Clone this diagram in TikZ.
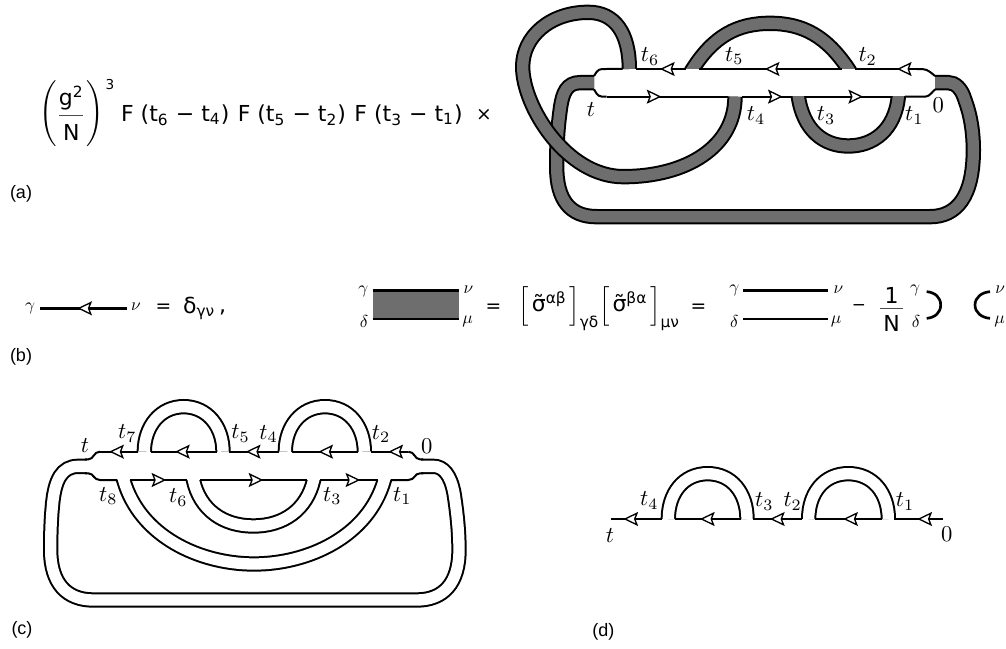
\documentclass[tikz,border=0pt]{standalone}
\usepackage{amsmath,amssymb}
\usepackage{fontspec}
\setmainfont{Liberation Sans}
\newfontfamily\eqfont{DejaVu Sans}
\usetikzlibrary{arrows.meta,decorations.markings}
\definecolor{tubegray}{HTML}{6E6E6E}

\begin{document}
\begin{tikzpicture}[
  x=0.25pt,y=-0.25pt,
  >={Stealth[length=11pt,width=10.5pt,inset=2pt,fill=white,line width=1pt]},
  wire/.style={line width=1.5pt},
  thickwire/.style={line width=1.9pt},
  tipat/.style={postaction={decorate,decoration={markings,mark=at position #1 with {\arrow{>}}}}},
  graytube/.style={line width=1.5pt,double=tubegray,double distance=8.5pt},
  whitetube/.style={line width=1.5pt,double=white,double distance=8.5pt},
  lbl/.style={inner sep=0pt,scale=1.7},
  idx/.style={inner sep=0pt,scale=1.3},
  eqn/.style={inner sep=0pt,font=\eqfont,scale=1.65},
  sign/.style={eqn,scale=0.85},
  panel/.style={inner sep=0pt,font=\fontsize{13.5}{15}\selectfont}
]
\useasboundingbox (0,0) rectangle (3018,1947);

% Prefactor
\node[eqn] (lparen) at (148,345) {$\left(\vrule height 14pt depth 14pt width 0pt\right.$};
\node[eqn] (gsq) at (214,295) {g\textsuperscript{2}};
\node[eqn] (ncol) at (214,398) {N};
\draw[line width=0.7pt,black!70] (178,345) -- (250,345);
\node[eqn] (rparen) at (282,345) {$\left.\vrule height 14pt depth 14pt width 0pt\right)$};
\node[eqn,scale=0.62] (cube) at (330,255) {3};
\node[eqn,anchor=west] (propa) at (362,345) {F (t\textsubscript{6} − t\textsubscript{4})};
\node[eqn,anchor=west] (propb) at (712,345) {F (t\textsubscript{5} − t\textsubscript{2})};
\node[eqn,anchor=west] (propc) at (1062,345) {F (t\textsubscript{3} − t\textsubscript{1})};
\node[sign] (times) at (1452,345) {×};
\node[panel] (laba) at (63,582) {(a)};

% Gray diagram
\begin{scope}[shift={(1500,0)}]
\draw[graytube] (282,248) -- (240,248) .. controls (200,248) and (188,280) .. (182,320)
  .. controls (172,390) and (170,440) .. (170,500) .. controls (170,600) and (210,650) .. (290,650)
  -- (1290,650) .. controls (1370,650) and (1420,590) .. (1420,450)
  .. controls (1420,390) and (1410,340) .. (1395,300) .. controls (1385,265) and (1365,248) .. (1345,248)
  -- (1305,248);
\draw[graytube] (388,207) .. controls (388,100) and (345,37) .. (265,37)
  .. controls (150,37) and (68,110) .. (68,200) .. controls (68,320) and (200,530) .. (370,530)
  .. controls (560,530) and (705,440) .. (705,290);
\begin{scope}
\clip (500,0) rectangle (1150,207);
\draw[graytube] (570,220) -- (578,207) .. controls (640,110) and (710,70) .. (810,70)
  .. controls (910,70) and (980,110) .. (1045,207) -- (1053,220);
\end{scope}
\begin{scope}
\clip (850,290) rectangle (1250,480);
\draw[graytube] (893,275) -- (895,290) .. controls (910,390) and (970,438) .. (1045,438)
  .. controls (1120,438) and (1185,390) .. (1195,290) -- (1197,275);
\end{scope}

% top line
\draw[wire] (282,228) .. controls (295,207) .. (320,207) -- (368,207);
\draw[wire,tipat=0.52] (558,207) -- (408,207);
\draw[wire,tipat=0.54] (1025,207) -- (598,207);
\draw[wire,tipat=0.32] (1250,207) -- (1065,207);
\draw[wire] (1250,207) .. controls (1280,207) .. (1305,228);
% bottom line
\draw[wire] (282,268) .. controls (295,290) .. (320,290);
\draw[wire,tipat=0.45] (320,290) -- (685,290);
\draw[wire,tipat=0.82] (725,290) -- (875,290);
\draw[wire,tipat=0.67] (915,290) -- (1175,290);
\draw[wire] (1215,290) -- (1265,290) .. controls (1285,290) .. (1305,268);

\node[lbl] (a6) at (450,170) {$t_6$};
\node[lbl] (a5) at (703,168) {$t_5$};
\node[lbl] (a2) at (1103,170) {$t_2$};
\node[lbl] (at) at (273,328) {$t$};
\node[lbl] (a4) at (768,347) {$t_4$};
\node[lbl] (a3) at (978,347) {$t_3$};
\node[lbl] (a1) at (1243,347) {$t_1$};
\node[lbl] (a0) at (1315,315) {$0$};
\end{scope}

% Propagators
\begin{scope}[shift={(0,720)}]
\node[idx] (bgam) at (90,205) {$\gamma$};
\node[idx] (bnu) at (408,200) {$\nu$};
\draw[thickwire,tipat=0.57] (380,205) coordinate (bnuend) -- (120,205) coordinate (bgamend);
\node[sign] (beq) at (490,205) {=};
\node[eqn,anchor=west] (bdelta) at (548,205) {δ\textsubscript{γν}};
\node[eqn] (bcomma) at (668,218) {,};

\fill[tubegray] (1118,152) rectangle (1378,237);
\draw[thickwire] (1118,152) -- (1378,152);
\draw[thickwire] (1118,237) -- (1378,237);
\node[idx] (cgam) at (1090,155) {$\gamma$};
\node[idx] (cnu) at (1405,150) {$\nu$};
\node[idx] (cdel) at (1092,243) {$\delta$};
\node[idx] (cmu) at (1403,245) {$\mu$};
\node[sign] (ceq) at (1480,205) {=};
\end{scope}

\begin{scope}[shift={(1500,720)}]
\node[eqn,anchor=west] (sigma) at (55,205) {$\left[\vrule height 10pt depth 6pt width 0pt\right.$σ̃\textsuperscript{αβ}$\left.\vrule height 10pt depth 6pt width 0pt\right]_{\text{γδ}}$$\left[\vrule height 10pt depth 6pt width 0pt\right.$σ̃\textsuperscript{βα}$\left.\vrule height 10pt depth 6pt width 0pt\right]_{\text{μν}}$};
\node[sign] (deq) at (595,205) {=};
\node[idx] (dgam) at (703,152) {$\gamma$};
\node[idx] (dnu) at (1015,148) {$\nu$};
\node[idx] (ddel) at (703,243) {$\delta$};
\node[idx] (dmu) at (1008,245) {$\mu$};
\draw[thickwire] (730,152) -- (985,152);
\draw[thickwire] (730,237) -- (985,237);
\node[sign,scale=0.9] (dminus) at (1077,203) {−};
\node[eqn] (done) at (1175,165) {1};
\node[eqn] (dn) at (1175,250) {N};
\draw[line width=0.7pt,black!70] (1140,206) -- (1210,206);
\node[idx] (egam) at (1245,152) {$\gamma$};
\node[idx] (edel) at (1248,243) {$\delta$};
\draw[line width=2pt] (1280,155) .. controls (1305,157) and (1322,172) .. (1322,195)
  .. controls (1322,218) and (1305,233) .. (1280,235);
\draw[line width=2pt] (1470,155) .. controls (1445,157) and (1425,172) .. (1425,195)
  .. controls (1425,218) and (1445,233) .. (1470,235);
\node[idx,anchor=west] (enu) at (1485,148) {$\nu$};
\node[idx,anchor=west] (emu) at (1482,245) {$\mu$};
\end{scope}
\node[panel] (labb) at (63,1071) {(b)};

% White diagram with two arches
\begin{scope}[shift={(0,1110)}]
\draw[whitetube] (265,289) -- (235,289) .. controls (185,289) and (165,330) .. (158,400)
  .. controls (154,440) and (152,480) .. (152,540) .. controls (152,640) and (200,690) .. (280,690)
  -- (1250,690) .. controls (1330,690) and (1377,640) .. (1377,540)
  .. controls (1377,480) and (1370,420) .. (1362,370) .. controls (1352,315) and (1330,289) .. (1300,289)
  -- (1260,289);
\begin{scope}
\clip (300,330) rectangle (1230,640);
\draw[whitetube] (367,315) -- (371,330) .. controls (420,500) and (600,582) .. (762,582)
  .. controls (924,582) and (1105,500) .. (1153,330) -- (1157,315);
\draw[whitetube] (577,315) -- (580,330) .. controls (600,420) and (670,468) .. (760,468)
  .. controls (850,468) and (920,420) .. (941,330) -- (944,315);
\end{scope}
\draw[whitetube] (433,245) .. controls (433,170) and (480,110) .. (551,110)
  .. controls (622,110) and (669,170) .. (669,245);
\draw[whitetube] (856,245) .. controls (856,170) and (903,110) .. (975,110)
  .. controls (1047,110) and (1093,170) .. (1093,245);
\fill[white] (262,252) rectangle (1263,324);

% top line
\draw[wire] (255,268) -- (265,268) .. controls (282,268) and (280,245) .. (300,245);
\draw[wire,tipat=0.76] (415,245) -- (300,245);
\draw[wire,tipat=0.63] (650,245) -- (452,245);
\draw[wire,tipat=0.67] (838,245) -- (688,245);
\draw[wire,tipat=0.60] (1075,245) -- (875,245);
\draw[wire,tipat=0.53] (1225,245) -- (1112,245);
\draw[wire] (1225,245) .. controls (1245,245) and (1243,268) .. (1260,268) -- (1270,268);
% bottom line
\draw[wire] (255,310) -- (265,310) .. controls (282,310) and (280,330) .. (300,330) -- (352,330);
\draw[wire,tipat=0.64] (390,330) -- (560,330);
\draw[wire,tipat=0.59] (600,330) -- (922,330);
\draw[wire,tipat=0.69] (960,330) -- (1135,330);
\draw[wire] (1172,330) -- (1225,330) .. controls (1245,330) and (1243,310) .. (1260,310) -- (1270,310);

\node[lbl] (ct) at (255,228) {$t$};
\node[lbl] (c7) at (382,190) {$t_7$};
\node[lbl] (c5) at (722,190) {$t_5$};
\node[lbl] (c4) at (806,192) {$t_4$};
\node[lbl] (c2) at (1143,192) {$t_2$};
\node[lbl] (c0) at (1280,228) {$0$};
\node[lbl] (c8) at (325,378) {$t_8$};
\node[lbl] (c6) at (535,382) {$t_6$};
\node[lbl] (c3) at (997,378) {$t_3$};
\node[lbl] (c1) at (1207,378) {$t_1$};
\end{scope}
\node[panel] (labc) at (66,1890) {(c)};

% Open line with two arches
\begin{scope}[shift={(1740,1350)}]
\draw[whitetube] (265,207) .. controls (265,130) and (310,71) .. (383,71)
  .. controls (456,71) and (501,130) .. (501,207);
\draw[whitetube] (686,207) .. controls (686,130) and (731,71) .. (805,71)
  .. controls (879,71) and (925,130) .. (925,207);
\draw[wire,tipat=0.53] (1090,207) -- (943,207);
\draw[wire,tipat=0.58] (907,207) -- (705,207);
\draw[wire,tipat=0.66] (667,207) -- (520,207);
\draw[wire,tipat=0.62] (482,207) -- (285,207);
\draw[wire,tipat=0.75] (245,207) -- (92,207);

\node[lbl] (d4) at (208,152) {$t_4$};
\node[lbl] (d3) at (553,155) {$t_3$};
\node[lbl] (d2) at (638,155) {$t_2$};
\node[lbl] (d1) at (975,155) {$t_1$};
\node[lbl] (dt) at (90,258) {$t$};
\node[lbl] (d0) at (1100,252) {$0$};
\end{scope}
\node[panel] (labd) at (1810,1896) {(d)};

\end{tikzpicture}
\end{document}
